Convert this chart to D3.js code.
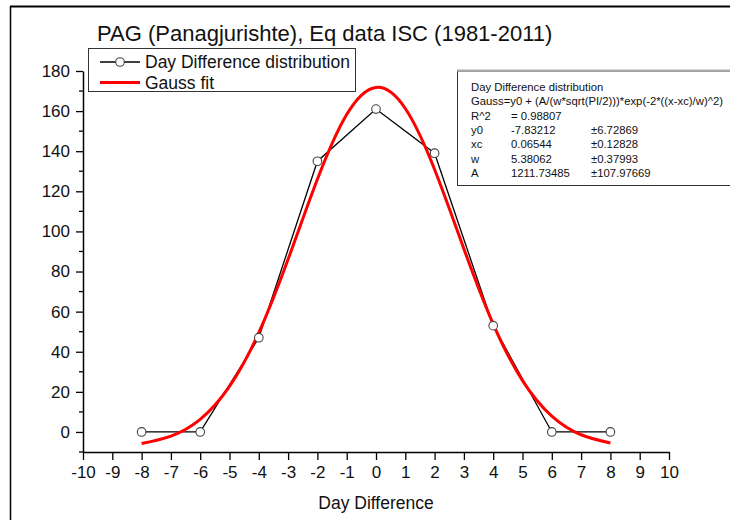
<!DOCTYPE html>
<html>
<head>
<meta charset="utf-8">
<script src="https://cdn.jsdelivr.net/npm/d3@7"></script>
<style>
  body { margin: 0; background: #fff; }
  svg { display: block; font-family: "Liberation Sans", Arial, sans-serif; }
</style>
</head>
<body>
<div id="chart"></div>
<script>
// measured points
const dayDiff = [-8, -6, -4, -2, 0, 2, 4, 6, 8];
const counts  = [0, 0, 47, 135, 161, 139, 53, 0, 0];

// red fit curve at each day
const fitX = [-8, -7, -6, -5, -4, -3, -2, -1, 0, 1, 2, 3, 4, 5, 6, 7, 8];
const fitY = [-5.8, -2.1, 6.3, 22.7, 49.5, 86.1, 126.0, 158.3, 171.8, 161.3, 130.9, 91.3, 53.8, 25.6, 7.9, -1.4, -5.5];

const xTicks = [-10, -9, -8, -7, -6, -5, -4, -3, -2, -1, 0, 1, 2, 3, 4, 5, 6, 7, 8, 9, 10];
const yTicks = [0, 20, 40, 60, 80, 100, 120, 140, 160, 180];
const yMinor = [-10, 10, 30, 50, 70, 90, 110, 130, 150, 170];

// fit report box
const fitTitle = "Day Difference distribution";
const fitFormula = "Gauss=y0 + (A/(w*sqrt(PI/2)))*exp(-2*((x-xc)/w)^2)";
const paramNames = ["R^2", "y0", "xc", "w", "A"];
const paramValues = ["= 0.98807", "-7.83212", "0.06544", "5.38062", "1211.73485"];
const paramErrors = ["", "\u00b16.72869", "\u00b10.12828", "\u00b10.37993", "\u00b1107.97669"];

const W = 730, H = 520;
const svg = d3.select('#chart').append('svg')
  .attr('width', W)
  .attr('height', H);

// page frame bits
svg.append('line').attr('x1', 10).attr('x2', W).attr('y1', 6.5).attr('y2', 6.5)
  .attr('stroke', '#000').attr('stroke-width', 2);
svg.append('line').attr('x1', 10.5).attr('x2', 10.5).attr('y1', 6).attr('y2', H)
  .attr('stroke', '#000').attr('stroke-width', 1.5);

const x = d3.scaleLinear().domain([-10, 10]).range([83, 669]);
const y = d3.scaleLinear().domain([-10, 180]).range([452, 71]);

// title
svg.append('text')
  .attr('x', 97).attr('y', 41)
  .attr('font-size', 22)
  .attr('fill', '#111')
  .text('PAG (Panagjurishte), Eq data ISC (1981-2011)');

// axes (plain hyphen for negatives, like the original)
const xAxis = svg.append('g')
  .attr('transform', `translate(0,${y(-10)})`)
  .call(d3.axisBottom(x).tickValues(xTicks).tickFormat(d => String(d))
    .tickSize(8).tickSizeOuter(0).tickPadding(6));
const yAxis = svg.append('g')
  .attr('transform', `translate(${x(-10)},0)`)
  .call(d3.axisLeft(y).tickValues(yTicks).tickFormat(d => String(d))
    .tickSize(7).tickSizeOuter(0).tickPadding(6));

svg.append('g')
  .attr('transform', `translate(${x(-10)},0)`)
  .selectAll('line')
  .data(yMinor)
  .join('line')
  .attr('x1', -4).attr('x2', 0)
  .attr('y1', d => y(d)).attr('y2', d => y(d))
  .attr('stroke', '#000').attr('stroke-width', 1.3);

[xAxis, yAxis].forEach(g => {
  g.select('.domain').attr('stroke', '#000').attr('stroke-width', 1.5);
  g.selectAll('.tick line').attr('stroke', '#000').attr('stroke-width', 1.3);
  g.selectAll('.tick text')
    .attr('font-size', 17)
    .attr('font-family', '"Liberation Sans", Arial, sans-serif')
    .attr('fill', '#111');
});

svg.append('text')
  .attr('x', x(0)).attr('y', 509)
  .attr('text-anchor', 'middle')
  .attr('font-size', 17.5)
  .attr('fill', '#111')
  .text('Day Difference');

// data line + markers
const pts = dayDiff.map((d, i) => [d, counts[i]]);
svg.append('path')
  .datum(pts)
  .attr('fill', 'none')
  .attr('stroke', '#000')
  .attr('stroke-width', 1.3)
  .attr('d', d3.line().x(d => x(d[0])).y(d => y(d[1])));

// gauss fit
const fit = fitX.map((d, i) => [d, fitY[i]]);
svg.append('path')
  .datum(fit)
  .attr('fill', 'none')
  .attr('stroke', '#ff0000')
  .attr('stroke-width', 3)
  .attr('d', d3.line().curve(d3.curveNatural).x(d => x(d[0])).y(d => y(d[1])));

svg.append('g')
  .selectAll('circle')
  .data(pts)
  .join('circle')
  .attr('cx', d => x(d[0]))
  .attr('cy', d => y(d[1]))
  .attr('r', 4.3)
  .attr('fill', '#fff')
  .attr('stroke', '#444')
  .attr('stroke-width', 1.1);

// legend
const lg = svg.append('g');
lg.append('rect')
  .attr('x', 88.5).attr('y', 48.5)
  .attr('width', 267).attr('height', 43)
  .attr('fill', '#fff')
  .attr('stroke', '#333');
lg.append('line').attr('x1', 100).attr('x2', 140).attr('y1', 62).attr('y2', 62)
  .attr('stroke', '#000').attr('stroke-width', 1.3);
lg.append('circle').attr('cx', 120).attr('cy', 62).attr('r', 4.3)
  .attr('fill', '#fff').attr('stroke', '#444').attr('stroke-width', 1.1);
lg.append('line').attr('x1', 100).attr('x2', 140).attr('y1', 82.5).attr('y2', 82.5)
  .attr('stroke', '#ff0000').attr('stroke-width', 3);
lg.append('text').attr('x', 145).attr('y', 68).attr('font-size', 17.5).attr('fill', '#111')
  .text('Day Difference distribution');
lg.append('text').attr('x', 145).attr('y', 89).attr('font-size', 17.5).attr('fill', '#111')
  .text('Gauss fit');

// fit report box
const bx = svg.append('g');
bx.append('rect')
  .attr('x', 457.5).attr('y', 71)
  .attr('width', W - 457).attr('height', 114.5)
  .attr('fill', '#fff')
  .attr('stroke', '#333');
bx.append('line').attr('x1', 457).attr('x2', W).attr('y1', 70.5).attr('y2', 70.5)
  .attr('stroke', '#aaa').attr('stroke-width', 2);

const rowY = i => 91 + i * 14.3;
const fs = 11.3;
bx.append('text').attr('x', 471).attr('y', rowY(0)).attr('font-size', fs).attr('fill', '#111').text(fitTitle);
bx.append('text').attr('x', 471).attr('y', rowY(1)).attr('font-size', fs).attr('fill', '#111').text(fitFormula);

paramNames.forEach((n, i) => {
  const yy = rowY(i + 2);
  bx.append('text').attr('x', 471).attr('y', yy).attr('font-size', fs).attr('fill', '#111').text(n);
  bx.append('text').attr('x', 511).attr('y', yy).attr('font-size', fs).attr('fill', '#111').text(paramValues[i]);
  bx.append('text').attr('x', 591).attr('y', yy).attr('font-size', fs).attr('fill', '#111').text(paramErrors[i]);
});
</script>
</body>
</html>
